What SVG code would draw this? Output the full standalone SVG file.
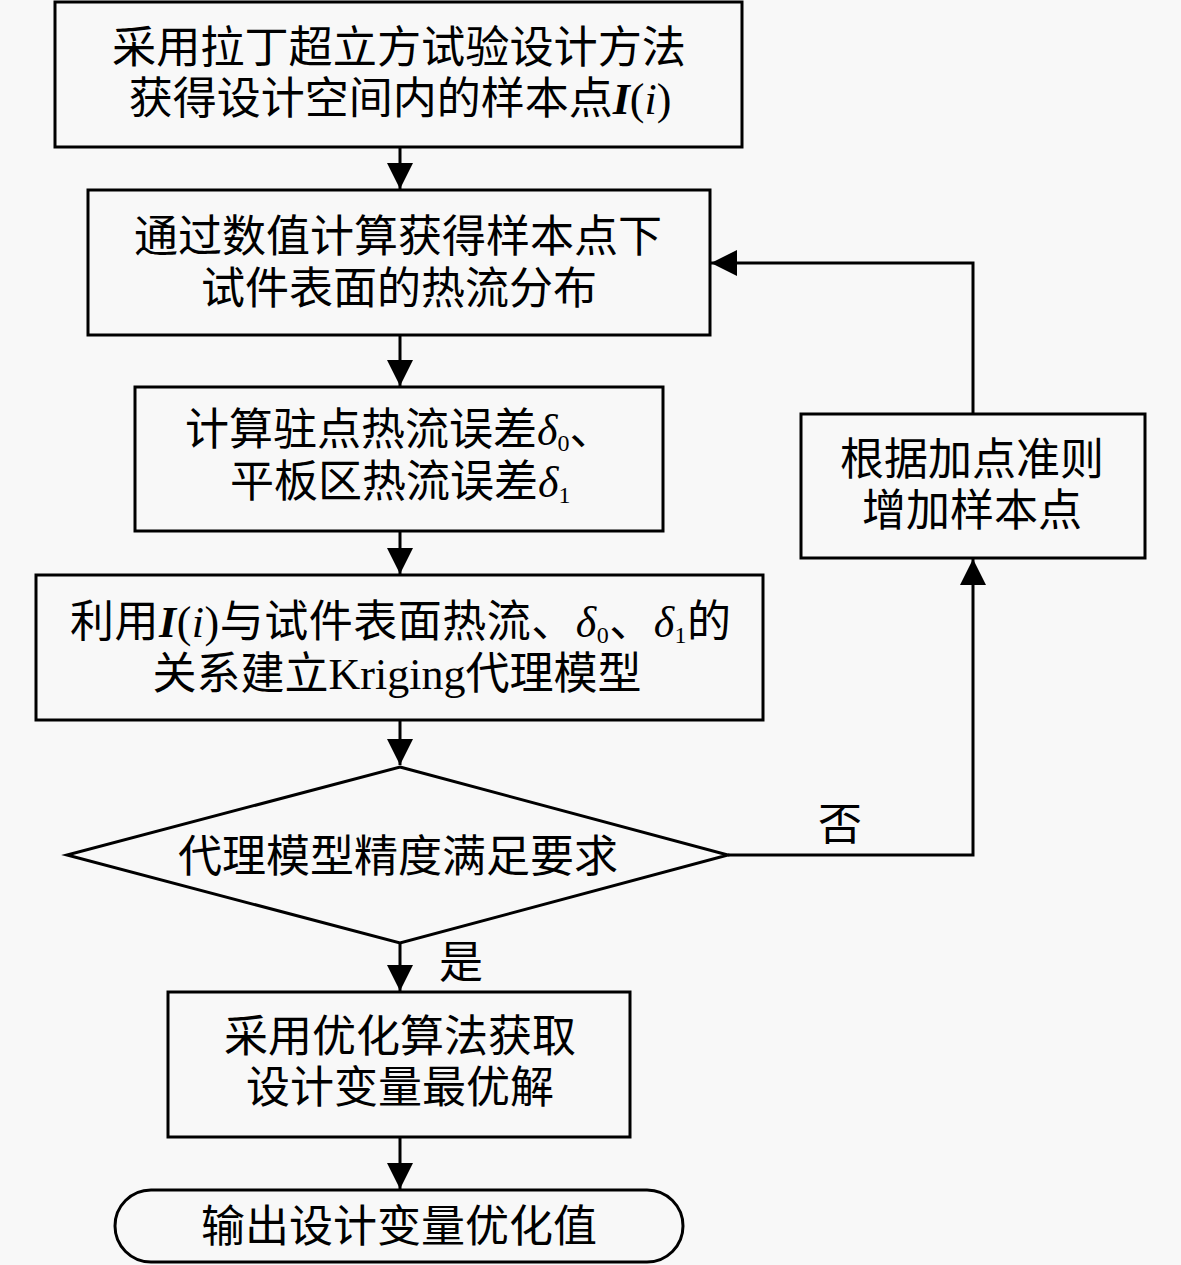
<svg xmlns="http://www.w3.org/2000/svg" width="1181" height="1265" viewBox="0 0 1181 1265">
<style>
.bg{fill:#f8f8f8}
.box{fill:#f8f8f8;stroke:#000;stroke-width:3}
.t{font-family:"Liberation Serif","Noto Sans CJK SC",serif;font-size:44px;fill:#000}
.c{text-anchor:middle}
.it{font-style:italic}
.bi{font-style:italic;font-weight:bold}
.sub{font-size:24px}
.edge{fill:none;stroke:#000;stroke-width:3}
</style>
<defs>
<marker id="arr" markerUnits="userSpaceOnUse" markerWidth="28" markerHeight="28" refX="26" refY="13" orient="auto">
<path d="M0,0 L26,13 L0,26 z" fill="#000"/>
</marker>
</defs>
<rect class="bg" x="0" y="0" width="1181" height="1265"/>

<g id="connectors">
<path class="edge" d="M400,147 V189" marker-end="url(#arr)"/>
<path class="edge" d="M400,335 V386" marker-end="url(#arr)"/>
<path class="edge" d="M400,531 V574" marker-end="url(#arr)"/>
<path class="edge" d="M400,720 V765" marker-end="url(#arr)"/>
<path class="edge" d="M400,943 V991" marker-end="url(#arr)"/>
<path class="edge" d="M400,1137 V1189" marker-end="url(#arr)"/>
<path class="edge" d="M728,855 H973 V559" marker-end="url(#arr)"/>
<path class="edge" d="M973,414 V263 H711" marker-end="url(#arr)"/>
<text class="t c" x="840" y="840">否</text>
<text class="t c" x="461" y="978">是</text>
</g>

<g id="n1">
<rect class="box" x="55" y="2" width="687" height="145"/>
<text class="t c" x="399" y="63" textLength="574" lengthAdjust="spacingAndGlyphs">采用拉丁超立方试验设计方法</text>
<text class="t c" x="400" y="114">获得设计空间内的样本点<tspan class="bi">I</tspan>(<tspan class="it">i</tspan>)</text>
</g>

<g id="n2">
<rect class="box" x="88" y="190" width="622" height="145"/>
<text class="t c" x="398" y="252">通过数值计算获得样本点下</text>
<text class="t c" x="399" y="304">试件表面的热流分布</text>
</g>

<g id="n3">
<rect class="box" x="135" y="387" width="528" height="144"/>
<text class="t" x="185" y="445">计算驻点热流误差<tspan class="it">δ</tspan><tspan class="sub" dy="6">0</tspan><tspan dy="-6">、</tspan></text>
<text class="t" x="230" y="497">平板区热流误差<tspan class="it">δ</tspan><tspan class="sub" dy="6">1</tspan></text>
</g>

<g id="n4">
<rect class="box" x="36" y="575" width="727" height="145"/>
<text class="t" x="70" y="637" letter-spacing="0.5">利用<tspan class="bi">I</tspan>(<tspan class="it">i</tspan>)与试件表面热流、<tspan class="it">δ</tspan><tspan class="sub" dy="6">0</tspan><tspan dy="-6">、</tspan><tspan class="it">δ</tspan><tspan class="sub" dy="6">1</tspan><tspan dy="-6">的</tspan></text>
<text class="t c" x="397" y="689">关系建立Kriging代理模型</text>
</g>

<g id="n5">
<polygon class="box" points="400,767 728,855 400,943 67,855"/>
<text class="t c" x="398" y="872">代理模型精度满足要求</text>
</g>

<g id="n6">
<rect class="box" x="801" y="414" width="344" height="144"/>
<text class="t c" x="972" y="475">根据加点准则</text>
<text class="t c" x="972" y="526">增加样本点</text>
</g>

<g id="n7">
<rect class="box" x="168" y="992" width="462" height="145"/>
<text class="t c" x="400" y="1052">采用优化算法获取</text>
<text class="t c" x="400" y="1103">设计变量最优解</text>
</g>

<g id="n8">
<rect class="box" x="115" y="1190" width="568" height="72" rx="36" ry="36"/>
<text class="t c" x="399" y="1242">输出设计变量优化值</text>
</g>
</svg>
